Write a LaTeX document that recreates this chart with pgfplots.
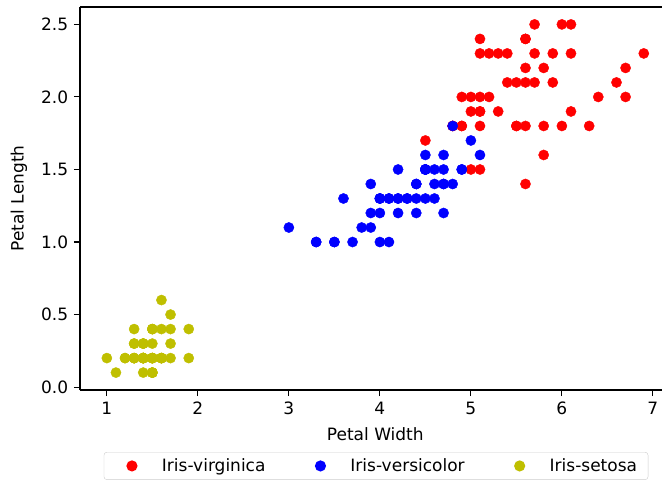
\documentclass[border=0pt]{standalone}
\usepackage{fontspec}
\setmainfont{DejaVu Sans}
\usepackage{pgfplots}
\pgfplotsset{compat=1.18}
\definecolor{myred}{rgb}{1,0,0}
\definecolor{myblue}{rgb}{0,0,1}
\definecolor{myyel}{rgb}{0.75,0.75,0}
\pgfplotsset{dotleg/.style={legend image code/.code={\path[draw=none,fill=none] (0pt,0pt) -- (34pt,0pt); \fill[#1, draw=none] (17pt,0pt) circle (5.6pt);}}}
\begin{document}
\fontsize{17}{20}\selectfont
\begin{tikzpicture}
\begin{axis}[
  scale only axis, width=582pt, height=383pt,
  xmin=0.705, xmax=7.1, ymin=-0.02, ymax=2.62,
  axis lines*=left,
  axis line style={line width=1.1pt, black},
  tick align=outside,
  major tick length=6pt,
  tick style={line width=1.1pt, black},
  xtick={1,2,3,4,5,6,7},
  ytick={0,0.5,1,1.5,2,2.5},
  yticklabel style={/pgf/number format/.cd, fixed, fixed zerofill, precision=1},
  /pgf/number format/assume math mode=true,
  tick label style={font=\fontsize{17}{20}\selectfont},
  label style={font=\fontsize{17}{20}\selectfont},
  xlabel={Petal Width},
  ylabel={Petal Length},
  xlabel style={at={(axis description cs:0.5074,-0.1149)}, anchor=center},
  ylabel style={at={(axis description cs:-0.1048,0.5)}, anchor=center, rotate=0},
  legend columns=3,
  legend style={at={(0.5086,-0.1619)}, anchor=north, draw=black!20, rounded corners=3pt,
    inner xsep=11pt, inner ysep=6pt, font=\fontsize{17}{20}\selectfont,
    nodes={inner sep=0pt, anchor=west},
    /tikz/every odd column/.append style={column sep=13pt},
    /tikz/every even column/.append style={column sep=38pt}},
  legend cell align=left,
]
\addplot[only marks, mark=*, mark size=5.1pt, myred, mark options={draw=none, fill=myred}, dotleg] coordinates {
(6.0,2.5)(5.1,1.9)(5.9,2.1)(5.6,1.8)(5.8,2.2)(6.6,2.1)(4.5,1.7)(6.3,1.8)(5.8,1.8)(6.1,2.5)
(5.1,2.0)(5.3,1.9)(5.5,2.1)(5.0,2.0)(5.1,2.4)(5.3,2.3)(5.5,1.8)(6.7,2.2)(6.9,2.3)(5.0,1.5)
(5.7,2.3)(4.9,2.0)(6.7,2.0)(4.9,1.8)(5.7,2.1)(6.0,1.8)(4.8,1.8)(4.9,1.8)(5.6,2.1)(5.8,1.6)
(6.1,1.9)(6.4,2.0)(5.6,2.2)(5.1,1.5)(5.6,1.4)(6.1,2.3)(5.6,2.4)(5.5,1.8)(4.8,1.8)(5.4,2.1)
(5.6,2.4)(5.1,2.3)(5.1,1.9)(5.9,2.3)(5.7,2.5)(5.2,2.3)(5.0,1.9)(5.2,2.0)(5.4,2.3)(5.1,1.8)
};
\addlegendentry{Iris-virginica}
\addplot[only marks, mark=*, mark size=5.1pt, myblue, mark options={draw=none, fill=myblue}, dotleg] coordinates {
(4.7,1.4)(4.5,1.5)(4.9,1.5)(4.0,1.3)(4.6,1.5)(4.5,1.3)(4.7,1.6)(3.3,1.0)(4.6,1.3)(3.9,1.4)
(3.5,1.0)(4.2,1.5)(4.0,1.0)(4.7,1.4)(3.6,1.3)(4.4,1.4)(4.5,1.5)(4.1,1.0)(4.5,1.5)(3.9,1.1)
(4.8,1.8)(4.0,1.3)(4.9,1.5)(4.7,1.2)(4.3,1.3)(4.4,1.4)(4.8,1.4)(5.0,1.7)(4.5,1.5)(3.5,1.0)
(3.8,1.1)(3.7,1.0)(3.9,1.2)(5.1,1.6)(4.5,1.5)(4.5,1.6)(4.7,1.5)(4.4,1.3)(4.1,1.3)(4.0,1.3)
(4.4,1.2)(4.6,1.4)(4.0,1.2)(3.3,1.0)(4.2,1.3)(4.2,1.2)(4.2,1.3)(4.3,1.3)(3.0,1.1)(4.1,1.3)
};
\addlegendentry{Iris-versicolor}
\addplot[only marks, mark=*, mark size=5.1pt, myyel, mark options={draw=none, fill=myyel}, dotleg] coordinates {
(1.4,0.2)(1.4,0.2)(1.3,0.2)(1.5,0.2)(1.4,0.2)(1.7,0.4)(1.4,0.3)(1.5,0.2)(1.4,0.2)(1.5,0.1)
(1.5,0.2)(1.6,0.2)(1.4,0.1)(1.1,0.1)(1.2,0.2)(1.5,0.4)(1.3,0.4)(1.4,0.3)(1.7,0.3)(1.5,0.3)
(1.7,0.2)(1.5,0.4)(1.0,0.2)(1.7,0.5)(1.9,0.2)(1.6,0.2)(1.6,0.4)(1.5,0.2)(1.4,0.2)(1.6,0.2)
(1.6,0.2)(1.5,0.4)(1.5,0.1)(1.4,0.2)(1.5,0.1)(1.2,0.2)(1.3,0.2)(1.5,0.1)(1.3,0.2)(1.5,0.2)
(1.3,0.3)(1.3,0.3)(1.3,0.2)(1.6,0.6)(1.9,0.4)(1.4,0.3)(1.6,0.2)(1.4,0.2)(1.5,0.2)(1.4,0.2)
};
\addlegendentry{Iris-setosa}
\draw[line width=1.1pt, black] (rel axis cs:0,1) -- (rel axis cs:1,1);
\coordinate (sw) at (rel axis cs:0,0);
\end{axis}
\pgfresetboundingbox
\path ([xshift=-80pt,yshift=-93pt]sw) rectangle ++(662pt,483pt);
\end{tikzpicture}
\end{document}
